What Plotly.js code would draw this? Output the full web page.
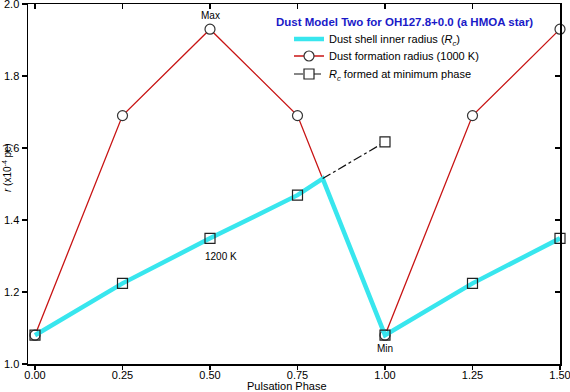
<!DOCTYPE html>
<html>
<head>
<meta charset="utf-8">
<script src="https://cdn.plot.ly/plotly-3.0.1.min.js"></script>
<style>html,body{margin:0;padding:0;background:#fff;}#chart{width:570px;height:392px;}</style>
</head>
<body>
<div id="chart"></div>
<script>
// Dust formation radius (1000 K)
const phaseFormation = [0.00, 0.25, 0.50, 0.75, 1.00, 1.25, 1.50];
const radiusFormation = [1.08, 1.69, 1.93, 1.69, 1.08, 1.69, 1.93];
// Dust shell inner radius (Rc)
const phaseShell = [0.00, 0.25, 0.50, 0.75, 0.822, 1.00, 1.25, 1.50];
const radiusShell = [1.08, 1.224, 1.349, 1.469, 1.515, 1.08, 1.224, 1.349];
// Rc formed at minimum phase (dash-dot segment)
const phaseMinRc = [0.822, 1.00];
const radiusMinRc = [1.515, 1.617];
// Square markers on the shell radius
const phaseSquares = [0.00, 0.25, 0.50, 0.75, 1.00, 1.25, 1.50];
const radiusSquares = [1.08, 1.224, 1.349, 1.469, 1.08, 1.224, 1.349];
// Axis ticks
const xTicks = [0.00, 0.25, 0.50, 0.75, 1.00, 1.25, 1.50];
const yTicks = [1.0, 1.2, 1.4, 1.6, 1.8, 2.0];
// Text labels
const chartTitle = 'Dust Model Two for OH127.8+0.0 (a HMOA star)';
const nameShell = 'Dust shell inner radius (<i>R<sub>c</sub></i>)';
const nameFormation = 'Dust formation radius (1000 K)';
const nameMinRc = '<i>R<sub>c</sub></i> formed at minimum phase';

const FONT = "Liberation Sans, Arial, Helvetica, sans-serif";
const RED = '#C81414', CYAN = '#38E6EE';

const traces = [
  { // red line with open circles
    x: phaseFormation, y: radiusFormation, mode: 'lines+markers', name: nameFormation,
    legend: 'legend2', cliponaxis: false,
    line: {color: RED, width: 1.3},
    marker: {symbol: 'circle', size: 10, color: '#fff', line: {color: '#333', width: 1.2}}
  },
  { // thick cyan line
    x: phaseShell, y: radiusShell, mode: 'lines', name: nameShell, legend: 'legend',
    line: {color: CYAN, width: 4.5}
  },
  { // squares along the cyan line
    x: phaseSquares, y: radiusSquares, mode: 'markers', showlegend: false, cliponaxis: false,
    marker: {symbol: 'square-open', size: 10, color: '#222', line: {width: 1.2}}
  },
  { // dash-dot segment
    x: phaseMinRc, y: radiusMinRc, mode: 'lines', showlegend: false,
    line: {color: '#111', width: 1.2, dash: 'dashdot'}
  },
  { // end square of the dash-dot segment
    x: phaseMinRc.slice(1), y: radiusMinRc.slice(1), mode: 'markers', showlegend: false,
    marker: {symbol: 'square', size: 10, color: '#fff', line: {color: '#222', width: 1.2}}
  },
  { // legend entry only
    x: [null], y: [null], mode: 'lines+markers', name: nameMinRc, legend: 'legend3',
    line: {color: '#111', width: 1.2, dash: 'dashdot'},
    marker: {symbol: 'square', size: 10, color: '#fff', line: {color: '#222', width: 1.2}}
  },
  { // activates mirrored axes and bottom tick marks
    x: [0], y: [1], xaxis: 'x2', yaxis: 'y2', mode: 'markers', marker: {opacity: 0},
    showlegend: false, hoverinfo: 'skip'
  },
  {
    x: [0], y: [1], xaxis: 'x3', yaxis: 'y', mode: 'markers', marker: {opacity: 0},
    showlegend: false, hoverinfo: 'skip'
  }
];

const axisBase = {
  showline: true, linecolor: '#000', linewidth: 1.5,
  ticks: 'outside', ticklen: 5, tickwidth: 1.5, tickcolor: '#000',
  showgrid: false, zeroline: false, automargin: false,
  ticklabeloverflow: 'allow',
  tickfont: {family: FONT, size: 11, color: '#000'}
};

// pixel helpers for paper-referenced text (plot area x 28..560, y 4..364)
const L = 28, W = 532, B = 364, H = 360;
const px = v => (v - L) / W;
const py = v => (B - v) / H;

function legendAt(yPix) {
  return {
    x: px(289), y: py(yPix), xanchor: 'left', yanchor: 'middle',
    bgcolor: 'rgba(0,0,0,0)', borderwidth: 0,
    font: {family: FONT, size: 11, color: '#000'}
  };
}

const mirrorAxis = {
  showline: true, linecolor: '#000', linewidth: 1.5,
  ticks: 'inside', ticklen: 5, tickwidth: 1.5, tickcolor: '#000',
  showticklabels: false, showgrid: false, zeroline: false
};

const layout = {
  width: 570, height: 392,
  margin: {l: 28, r: 10, t: 4, b: 28},
  paper_bgcolor: '#fff', plot_bgcolor: '#fff',
  showlegend: true,
  font: {family: FONT, size: 11, color: '#000'},
  xaxis: Object.assign({}, axisBase, {
    range: [-0.02, 1.5], tickvals: xTicks, tickformat: '.2f', ticks: ''
  }),
  xaxis3: {
    overlaying: 'x', side: 'bottom', range: [-0.02, 1.5], tickvals: xTicks,
    showline: false, ticks: 'outside', ticklen: 5, tickwidth: 1.5, tickcolor: '#000',
    showticklabels: false, showgrid: false, zeroline: false
  },
  yaxis: Object.assign({}, axisBase, {
    range: [1.0, 2.0], tickvals: yTicks, tickformat: '.1f'
  }),
  xaxis2: Object.assign({}, mirrorAxis, {overlaying: 'x', side: 'top', range: [-0.02, 1.5], tickvals: xTicks}),
  yaxis2: Object.assign({}, mirrorAxis, {overlaying: 'y', side: 'right', range: [1.0, 2.0], tickvals: yTicks}),
  legend: legendAt(39),
  legend2: legendAt(56),
  legend3: legendAt(74),
  annotations: [
    {xref: 'paper', yref: 'paper', x: px(274), y: py(22), xanchor: 'left', yanchor: 'middle',
     text: '<b>' + chartTitle + '</b>', showarrow: false,
     font: {family: FONT, size: 11.5, color: '#1A1AC8'}},
    {xref: 'paper', yref: 'paper', x: px(287), y: py(386), xanchor: 'center', yanchor: 'middle',
     text: 'Pulsation Phase', showarrow: false, font: {family: FONT, size: 11}},
    {xref: 'paper', yref: 'paper', x: px(-1), y: py(168), xanchor: 'left', yanchor: 'middle',
     textangle: -90, text: '<i>r</i> (x10<sup>-4</sup> pc)', showarrow: false,
     font: {family: FONT, size: 10}},
    {x: 0.5, y: 1.968, text: 'Max', showarrow: false, font: {family: FONT, size: 10}},
    {x: 0.531, y: 1.298, text: '1200 K', showarrow: false, font: {family: FONT, size: 10}},
    {x: 1.0, y: 1.042, text: 'Min', showarrow: false, font: {family: FONT, size: 10}}
  ]
};

Plotly.newPlot('chart', traces, layout, {displayModeBar: false, staticPlot: true});
</script>
</body>
</html>
